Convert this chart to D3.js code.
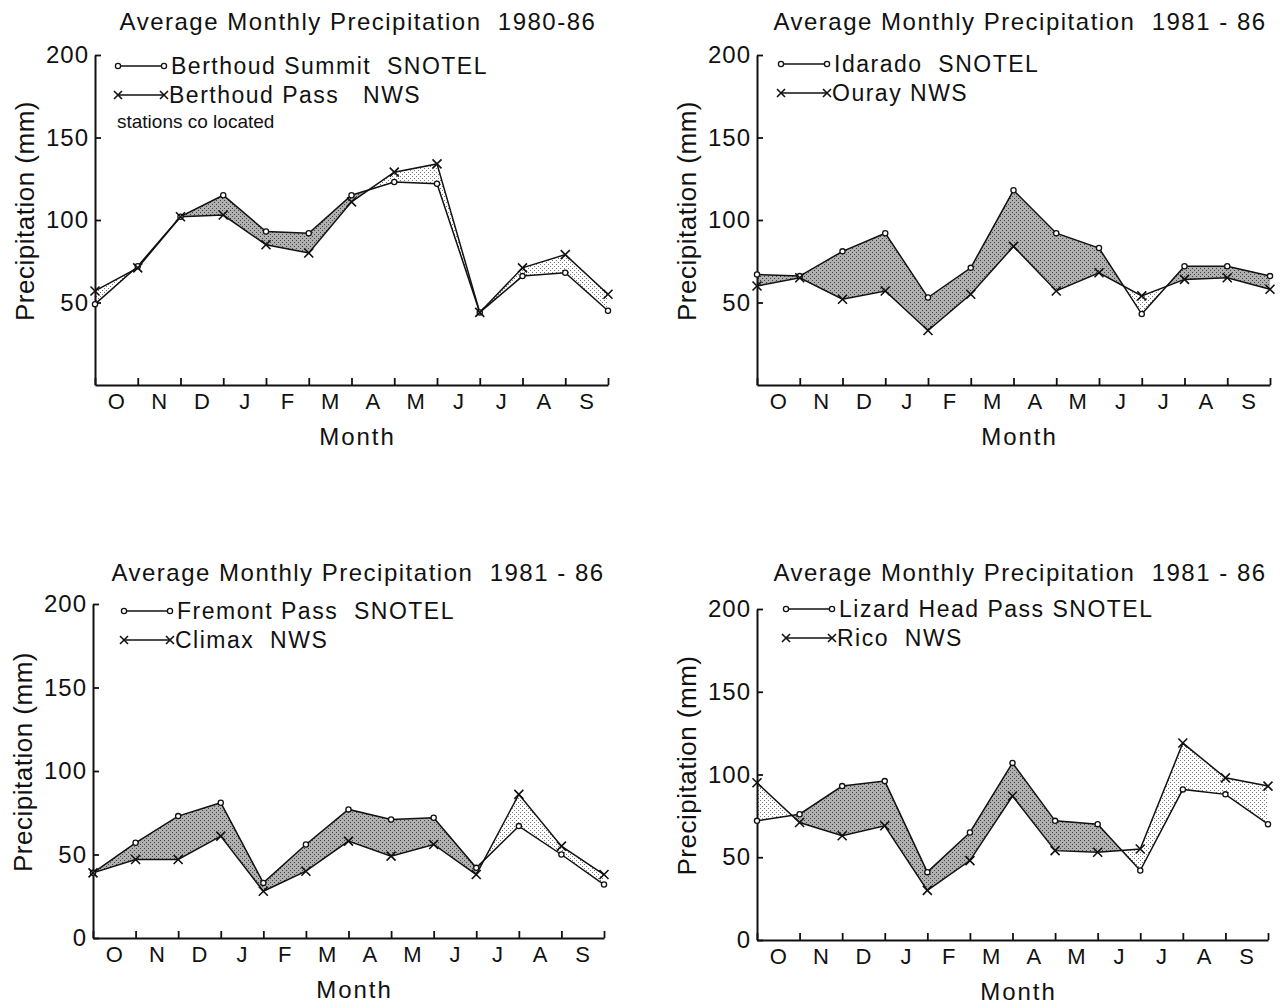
<!DOCTYPE html>
<html>
<head>
<meta charset="utf-8">
<title>Average Monthly Precipitation</title>
<script src="https://d3js.org/d3.v7.min.js"></script>
<style>
  body { margin: 0; background: #fff; }
  text { font-family: "Liberation Sans", Arial, sans-serif; fill: #111; white-space: pre; }
</style>
</head>
<body>
<script>
// month labels (Oct .. Sep water year), 13 points sit on the month boundaries
var months = ["O", "N", "D", "J", "F", "M", "A", "M", "J", "J", "A", "S"];
var yTicksTop = [50, 100, 150, 200];
var yTicksBottom = [0, 50, 100, 150, 200];

// values (mm)
var berthoudSummit = [49, 72, 102, 115, 93, 92, 115, 123, 122, 44, 66, 68, 45];
var berthoudPass   = [57, 71, 102, 103, 85, 80, 111, 129, 134, 44, 71, 79, 55];

var idarado = [67, 66, 81, 92, 53, 71, 118, 92, 83, 43, 72, 72, 66];
var ouray   = [60, 65, 52, 57, 33, 55, 84, 57, 68, 54, 64, 65, 58];

var fremontPass = [39, 57, 73, 81, 33, 56, 77, 71, 72, 42, 67, 50, 32];
var climax      = [39, 47, 47, 61, 28, 40, 58, 49, 56, 38, 86, 55, 38];

var lizardHead = [72, 76, 93, 96, 41, 65, 107, 72, 70, 42, 91, 88, 70];
var rico       = [95, 71, 63, 69, 30, 48, 87, 54, 53, 55, 119, 98, 93];

var svg = d3.select("body").append("svg")
  .attr("width", 1280)
  .attr("height", 1006);

// stipple patterns for the shaded differences
var defs = svg.append("defs");
var dark = defs.append("pattern").attr("id", "dark")
  .attr("width", 4).attr("height", 4).attr("patternUnits", "userSpaceOnUse");
dark.append("rect").attr("width", 4).attr("height", 4).attr("fill", "#b0b0b0");
dark.append("rect").attr("x", 0).attr("y", 0).attr("width", 1).attr("height", 1).attr("fill", "#444");
dark.append("rect").attr("x", 2).attr("y", 2).attr("width", 1).attr("height", 1).attr("fill", "#444");
var light = defs.append("pattern").attr("id", "light")
  .attr("width", 4).attr("height", 4).attr("patternUnits", "userSpaceOnUse");
light.append("rect").attr("width", 4).attr("height", 4).attr("fill", "#fff");
light.append("rect").attr("x", 0).attr("y", 0).attr("width", 1).attr("height", 1).attr("fill", "#777");
light.append("rect").attr("x", 2).attr("y", 2).attr("width", 1).attr("height", 1).attr("fill", "#777");

var panels = [
  {id: "p1", left: 95, right: 608, top: 55, bottom: 385, yTicks: yTicksTop,
   title: "Average Monthly Precipitation  1980-86", titleX: 358, titleY: 30,
   snotel: berthoudSummit, nws: berthoudPass,
   names: ["Berthoud Summit  SNOTEL", "Berthoud Pass   NWS"],
   legX: 118, legY: 66, note: "stations co located"},
  {id: "p2", left: 757, right: 1270, top: 55, bottom: 385, yTicks: yTicksTop,
   title: "Average Monthly Precipitation  1981 - 86", titleX: 1020, titleY: 30,
   snotel: idarado, nws: ouray,
   names: ["Idarado  SNOTEL", "Ouray NWS"],
   legX: 781, legY: 64},
  {id: "p3", left: 93, right: 604, top: 604, bottom: 938, yTicks: yTicksBottom,
   title: "Average Monthly Precipitation  1981 - 86", titleX: 358, titleY: 581,
   snotel: fremontPass, nws: climax,
   names: ["Fremont Pass  SNOTEL", "Climax  NWS"],
   legX: 124, legY: 611},
  {id: "p4", left: 757, right: 1268, top: 609, bottom: 940, yTicks: yTicksBottom,
   title: "Average Monthly Precipitation  1981 - 86", titleX: 1020, titleY: 581,
   snotel: lizardHead, nws: rico,
   names: ["Lizard Head Pass SNOTEL", "Rico  NWS"],
   legX: 786, legY: 609}
];

function cross(sel, cx, cy, r) {
  sel.append("path")
    .attr("d", "M" + (cx - r) + "," + (cy - r) + "L" + (cx + r) + "," + (cy + r) +
               "M" + (cx - r) + "," + (cy + r) + "L" + (cx + r) + "," + (cy - r))
    .attr("stroke", "#111").attr("stroke-width", 1.6).attr("fill", "none");
}

panels.forEach(function(p) {
  var g = svg.append("g");
  var idx = d3.range(13);
  var x = d3.scaleLinear().domain([0, 12]).range([p.left, p.right]);
  var y = d3.scaleLinear().domain([0, 200]).range([p.bottom, p.top]);

  // clip regions above / below the NWS line
  var clipAbove = d3.area().x(function(i) { return x(i); })
    .y0(p.top - 30).y1(function(i) { return y(p.nws[i]); });
  var clipBelow = d3.area().x(function(i) { return x(i); })
    .y0(p.bottom).y1(function(i) { return y(p.nws[i]); });
  defs.append("clipPath").attr("id", p.id + "-above").append("path").attr("d", clipAbove(idx));
  defs.append("clipPath").attr("id", p.id + "-below").append("path").attr("d", clipBelow(idx));

  var band = d3.area().x(function(i) { return x(i); })
    .y0(function(i) { return y(p.nws[i]); })
    .y1(function(i) { return y(p.snotel[i]); });

  // SNOTEL higher -> dark stipple, NWS higher -> light stipple
  g.append("path").attr("d", band(idx)).attr("fill", "url(#dark)")
    .attr("clip-path", "url(#" + p.id + "-above)");
  g.append("path").attr("d", band(idx)).attr("fill", "url(#light)")
    .attr("clip-path", "url(#" + p.id + "-below)");

  // axes
  var yAxis = g.append("g")
    .attr("transform", "translate(" + p.left + ",0)")
    .call(d3.axisLeft(y).tickValues(p.yTicks).tickSize(-6).tickSizeOuter(0).tickPadding(6));
  yAxis.select(".domain").attr("stroke", "#111").attr("stroke-width", 2);
  yAxis.selectAll(".tick line").attr("stroke", "#111").attr("stroke-width", 1.8);
  yAxis.selectAll(".tick text")
    .style("font-size", "24px").style("letter-spacing", "1px").attr("fill", "#111");

  var xAxis = g.append("g")
    .attr("transform", "translate(0," + p.bottom + ")")
    .call(d3.axisBottom(x).tickValues(idx).tickSize(-7).tickSizeOuter(0).tickFormat(""));
  xAxis.select(".domain").attr("stroke", "#111").attr("stroke-width", 2);
  xAxis.selectAll(".tick line").attr("stroke", "#111").attr("stroke-width", 1.8);

  var mScale = d3.scaleBand().domain(d3.range(12)).range([p.left, p.right]);
  var mAxis = g.append("g")
    .attr("transform", "translate(0," + p.bottom + ")")
    .call(d3.axisBottom(mScale).tickSize(0).tickPadding(8)
      .tickFormat(function(i) { return months[i]; }));
  mAxis.select(".domain").remove();
  mAxis.selectAll(".tick text").style("font-size", "22px").attr("fill", "#111");

  g.append("text")
    .attr("x", (p.left + p.right) / 2 + 6).attr("y", p.bottom + 60)
    .attr("text-anchor", "middle")
    .style("font-size", "24px").style("letter-spacing", "2px")
    .text("Month");

  g.append("text")
    .attr("transform", "translate(" + (p.left - 61) + "," + ((p.top + p.bottom) / 2 - 9) + ") rotate(-90)")
    .attr("text-anchor", "middle")
    .style("font-size", "26px").style("letter-spacing", "0.5px")
    .text("Precipitation (mm)");

  g.append("text")
    .attr("x", p.titleX).attr("y", p.titleY)
    .attr("text-anchor", "middle")
    .style("font-size", "24px").style("letter-spacing", "1.5px")
    .text(p.title);

  // lines
  var line = d3.line().x(function(i) { return x(i); });
  g.append("path").attr("d", line.y(function(i) { return y(p.snotel[i]); })(idx))
    .attr("fill", "none").attr("stroke", "#111").attr("stroke-width", 1.5);
  g.append("path").attr("d", line.y(function(i) { return y(p.nws[i]); })(idx))
    .attr("fill", "none").attr("stroke", "#111").attr("stroke-width", 1.5);

  // markers
  g.selectAll(".dot").data(idx).enter().append("circle")
    .attr("cx", function(i) { return x(i); })
    .attr("cy", function(i) { return y(p.snotel[i]); })
    .attr("r", 2.6).attr("fill", "#fff").attr("stroke", "#111").attr("stroke-width", 1.3);
  idx.forEach(function(i) { cross(g, x(i), y(p.nws[i]), 4.5); });

  // legend
  var lg = g.append("g");
  lg.append("line").attr("x1", p.legX).attr("x2", p.legX + 46)
    .attr("y1", p.legY).attr("y2", p.legY).attr("stroke", "#111").attr("stroke-width", 1.5);
  lg.append("circle").attr("cx", p.legX).attr("cy", p.legY).attr("r", 2.6)
    .attr("fill", "#fff").attr("stroke", "#111").attr("stroke-width", 1.3);
  lg.append("circle").attr("cx", p.legX + 46).attr("cy", p.legY).attr("r", 2.6)
    .attr("fill", "#fff").attr("stroke", "#111").attr("stroke-width", 1.3);
  lg.append("text").attr("x", p.legX + 53).attr("y", p.legY + 8)
    .style("font-size", "23px").style("letter-spacing", "1.5px").text(p.names[0]);

  var ly = p.legY + 29;
  lg.append("line").attr("x1", p.legX).attr("x2", p.legX + 46)
    .attr("y1", ly).attr("y2", ly).attr("stroke", "#111").attr("stroke-width", 1.5);
  cross(lg, p.legX, ly, 4);
  cross(lg, p.legX + 46, ly, 4);
  lg.append("text").attr("x", p.legX + 51).attr("y", ly + 8)
    .style("font-size", "23px").style("letter-spacing", "1.5px").text(p.names[1]);

  if (p.note) {
    lg.append("text").attr("x", p.legX - 1).attr("y", ly + 33)
      .style("font-size", "19px").text(p.note);
  }
});
</script>
</body>
</html>
